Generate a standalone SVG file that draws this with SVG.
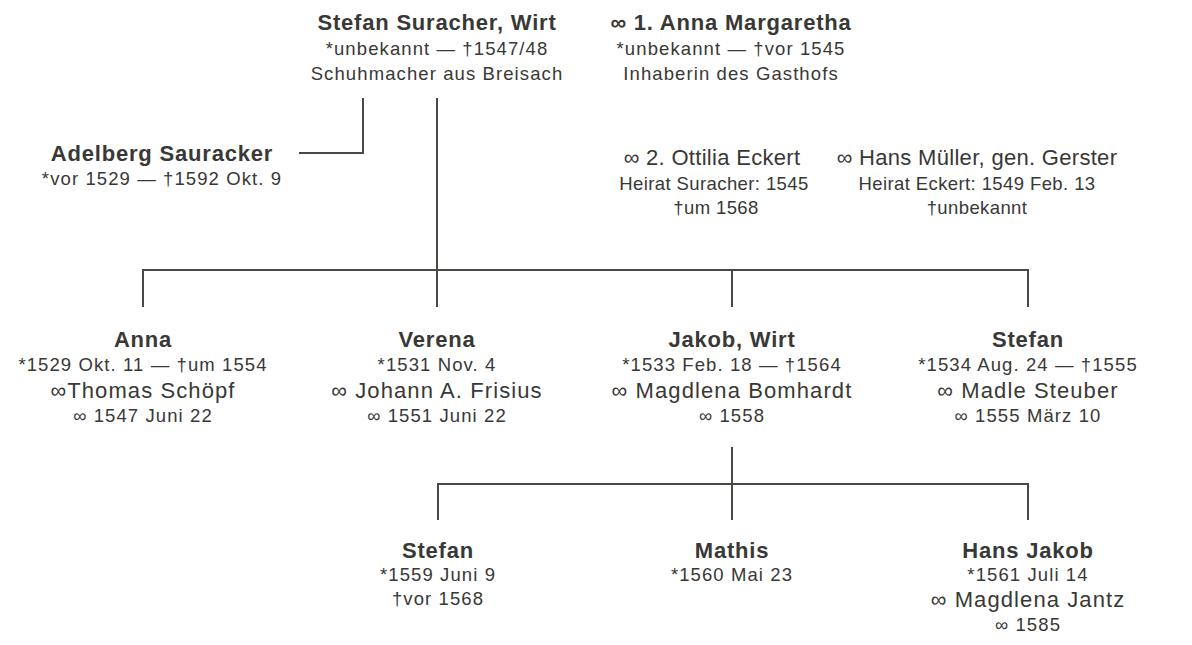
<svg xmlns="http://www.w3.org/2000/svg" width="1192" height="645" viewBox="0 0 1192 645">
<style>
text { font-family: "Liberation Sans", Arial, sans-serif; fill: #383836; text-anchor: middle; }
.n { font-size: 22px; font-weight: bold; letter-spacing: 0.8px; }
.s { font-size: 22px; letter-spacing: 1.1px; }
.d { font-size: 18.5px; letter-spacing: 1.1px; }
.tight .s { letter-spacing: 0.3px; }
.tight .d { letter-spacing: 0.4px; }
#connectors path { stroke: #4a4a44; stroke-width: 2; fill: none; }
</style>
<rect width="1192" height="645" fill="#ffffff"/>
<g id="connectors">
  <path d="M299 153 H363 V98"/>
  <path d="M437 98 V307"/>
  <path d="M143 307 V270 H1028 V307"/>
  <path d="M732 270 V307"/>
  <path d="M732 447 V520"/>
  <path d="M438 520 V484 H1028 V520"/>
</g>
<g id="stefan-suracher">
  <text class="n" x="437" y="30">Stefan Suracher, Wirt</text>
  <text class="d" x="437" y="55">*unbekannt — †1547/48</text>
  <text class="d" x="437" y="80">Schuhmacher aus Breisach</text>
</g>
<g id="anna-margaretha">
  <text class="n" x="731" y="30">∞ 1. Anna Margaretha</text>
  <text class="d" x="731" y="55">*unbekannt — †vor 1545</text>
  <text class="d" x="731" y="80">Inhaberin des Gasthofs</text>
</g>
<g id="adelberg">
  <text class="n" x="162" y="161">Adelberg Sauracker</text>
  <text class="d" x="162" y="185">*vor 1529 — †1592 Okt. 9</text>
</g>
<g id="ottilia" class="tight">
  <text class="s" x="712" y="165">∞ 2. Ottilia Eckert</text>
  <text class="d" x="714" y="190">Heirat Suracher: 1545</text>
  <text class="d" x="716" y="214">†um 1568</text>
</g>
<g id="hans-mueller" class="tight">
  <text class="s" x="977" y="165">∞ Hans Müller, gen. Gerster</text>
  <text class="d" x="977" y="190">Heirat Eckert: 1549 Feb. 13</text>
  <text class="d" x="977" y="214">†unbekannt</text>
</g>
<g id="anna">
  <text class="n" x="143" y="347">Anna</text>
  <text class="d" x="143" y="371">*1529 Okt. 11 — †um 1554</text>
  <text class="s" x="143" y="398">∞Thomas Schöpf</text>
  <text class="d" x="143" y="422">∞ 1547 Juni 22</text>
</g>
<g id="verena">
  <text class="n" x="437" y="347">Verena</text>
  <text class="d" x="437" y="371">*1531 Nov. 4</text>
  <text class="s" x="437" y="398">∞ Johann A. Frisius</text>
  <text class="d" x="437" y="422">∞ 1551 Juni 22</text>
</g>
<g id="jakob">
  <text class="n" x="732" y="347">Jakob, Wirt</text>
  <text class="d" x="732" y="371">*1533 Feb. 18 — †1564</text>
  <text class="s" x="732" y="398">∞ Magdlena Bomhardt</text>
  <text class="d" x="732" y="422">∞ 1558</text>
</g>
<g id="stefan-1534">
  <text class="n" x="1028" y="347">Stefan</text>
  <text class="d" x="1028" y="371">*1534 Aug. 24 — †1555</text>
  <text class="s" x="1028" y="398">∞ Madle Steuber</text>
  <text class="d" x="1028" y="422">∞ 1555 März 10</text>
</g>
<g id="stefan-1559">
  <text class="n" x="438" y="558">Stefan</text>
  <text class="d" x="438" y="581">*1559 Juni 9</text>
  <text class="d" x="438" y="605">†vor 1568</text>
</g>
<g id="mathis">
  <text class="n" x="732" y="558">Mathis</text>
  <text class="d" x="732" y="581">*1560 Mai 23</text>
</g>
<g id="hans-jakob">
  <text class="n" x="1028" y="558">Hans Jakob</text>
  <text class="d" x="1028" y="581">*1561 Juli 14</text>
  <text class="s" x="1028" y="607">∞ Magdlena Jantz</text>
  <text class="d" x="1028" y="631">∞ 1585</text>
</g>
</svg>
